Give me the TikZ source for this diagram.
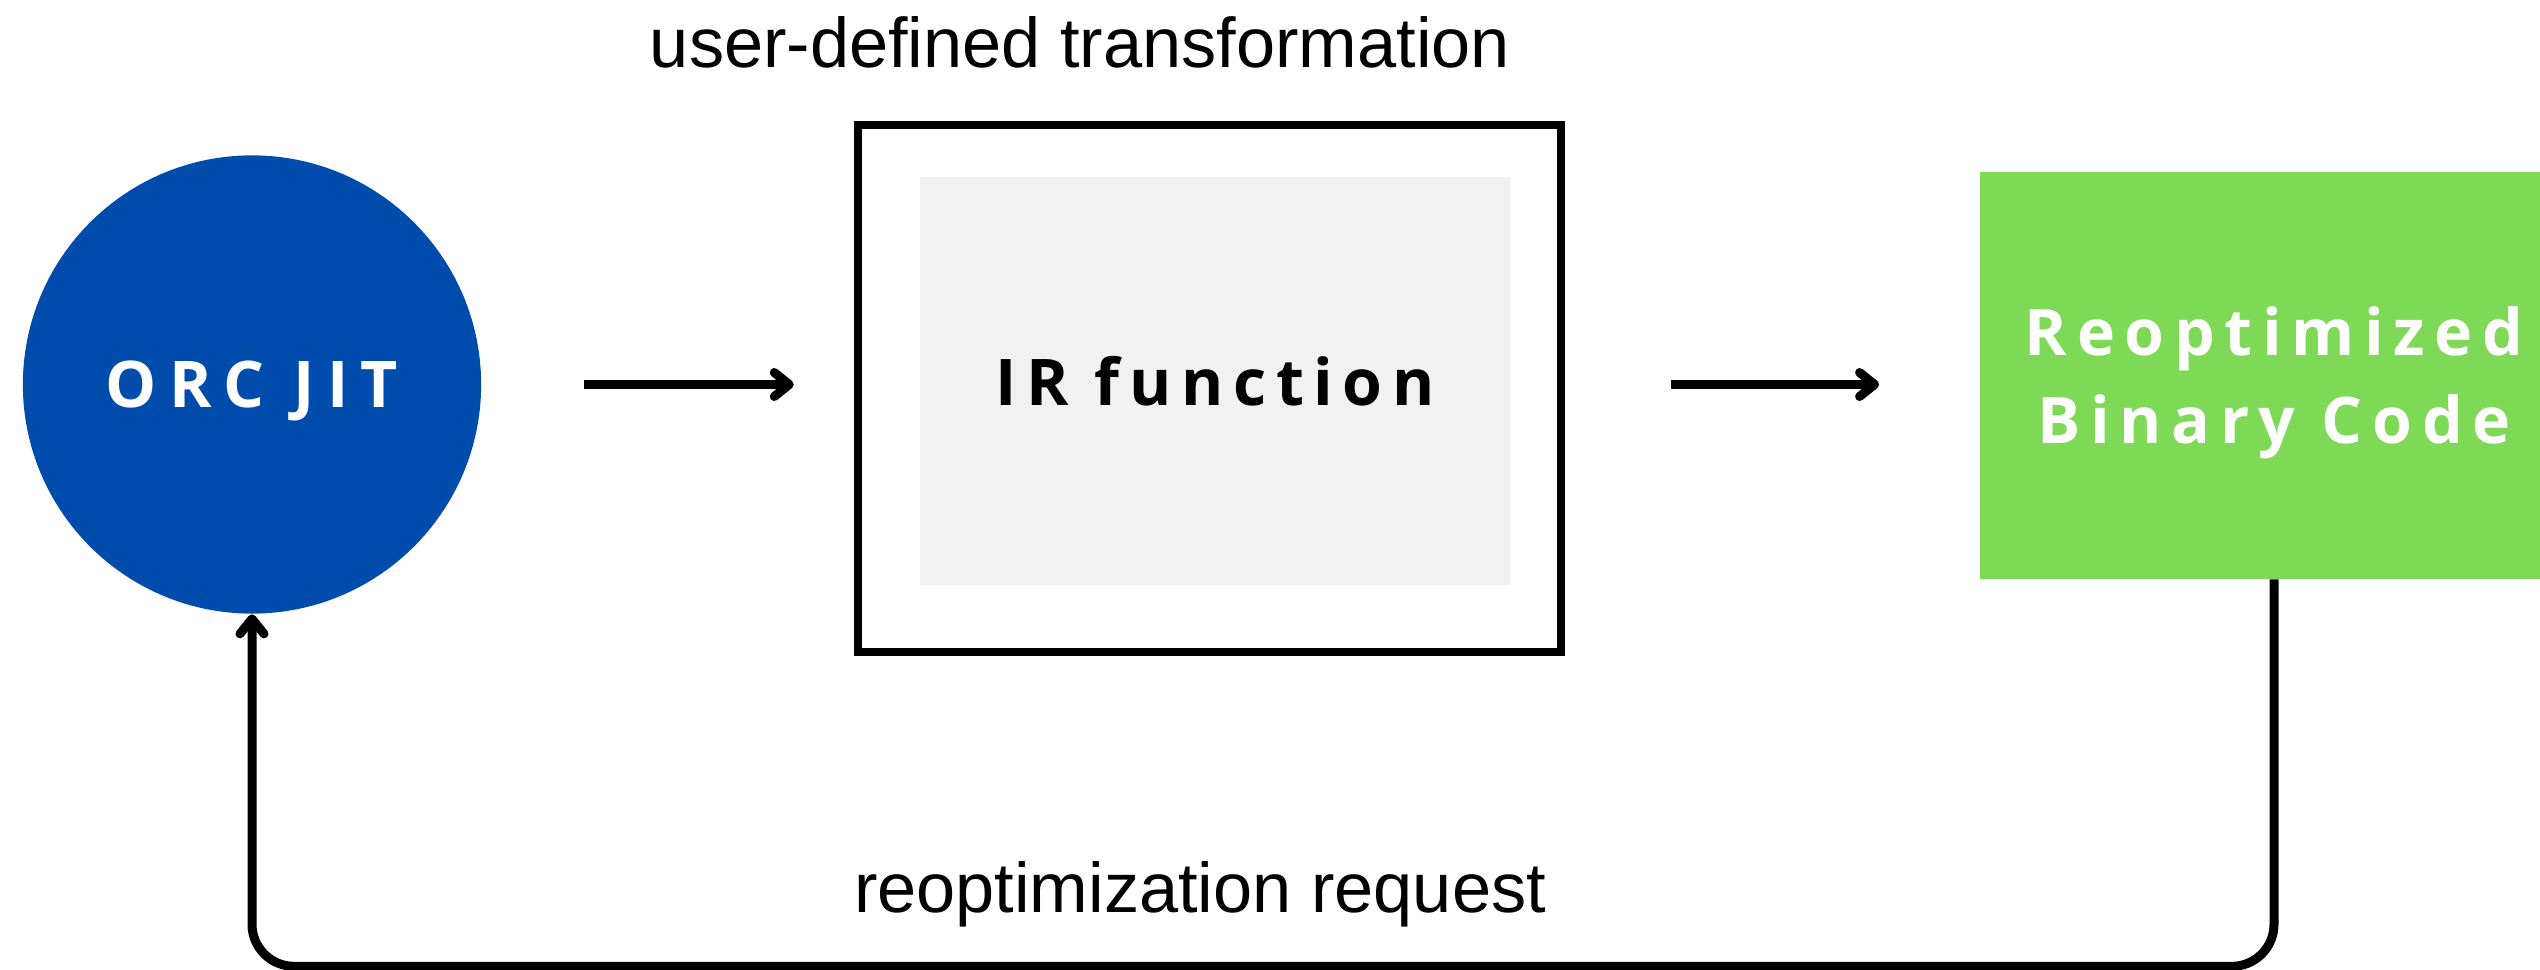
\documentclass[tikz,border=0pt]{standalone}
\usepackage{fontspec}
\setmainfont{Liberation Sans}
\newfontfamily\boxfont[LetterSpace=15]{Open Sans}
\newfontfamily\jitfont[LetterSpace=19]{Open Sans}
\usetikzlibrary{arrows.meta,positioning}
\definecolor{jitblue}{HTML}{004CAD}
\definecolor{codegreen}{HTML}{7ED957}
\definecolor{irgray}{HTML}{F1F1F1}

\begin{document}
\begin{tikzpicture}[
    x=0.01cm, y=-0.01cm,
    boxtext/.style={font=\boxfont\bfseries\fontsize{18.3}{25}\selectfont, text depth=0pt},
    jitnode/.style={circle, fill=jitblue, minimum size=4.58cm, inner sep=0pt, text=white, boxtext, font=\jitfont\bfseries\fontsize{18.3}{25}\selectfont},
    irframe/.style={draw=black, line width=0.08cm, minimum width=7.03cm, minimum height=5.27cm, inner sep=0pt},
    irnode/.style={fill=irgray, minimum width=5.9cm, minimum height=4.08cm, inner sep=0pt, text=black, boxtext},
    binnode/.style={fill=codegreen, minimum width=5.88cm, minimum height=4.06cm, inner sep=0pt, align=center, text=white, boxtext},
    flowtext/.style={font=\fontsize{20}{24}\selectfont, anchor=base},
    arrow/.style={-{Straight Barb[length=0.15cm, width=0.24cm, round]}, line width=0.09cm, draw=black}
]
    \useasboundingbox (0,0) rectangle (2540,970);
    \clip (0,0) rectangle (2540,970);

    % Stages
    \node[jitnode] (jit) at (252,384.5) {ORC JIT};
    \node[irframe] (frame) at (1209.5,388.5) {};
    \node[irnode] (irfun) at (1215,381) {IR function};
    \node[binnode] (binary) at (2274,375.5) {Reoptimized\\Binary Code};

    % Labels
    \node[flowtext] (transform) at (1080,68) {user-defined transformation};
    \node[flowtext] (request) at (1200,912) {reoptimization request};

    % Edges
    \draw[arrow, shorten <=1.02cm, shorten >=0.6cm] (jit.east) -- (jit.east -| frame.west);
    \draw[arrow, shorten <=1.06cm, shorten >=1.0cm] (frame.east |- jit.east) -- (binary.west |- jit.east);
    \draw[arrow, rounded corners=0.42cm] (binary.south) -- ++(0,387) -| (jit.south);

\end{tikzpicture}
\end{document}
